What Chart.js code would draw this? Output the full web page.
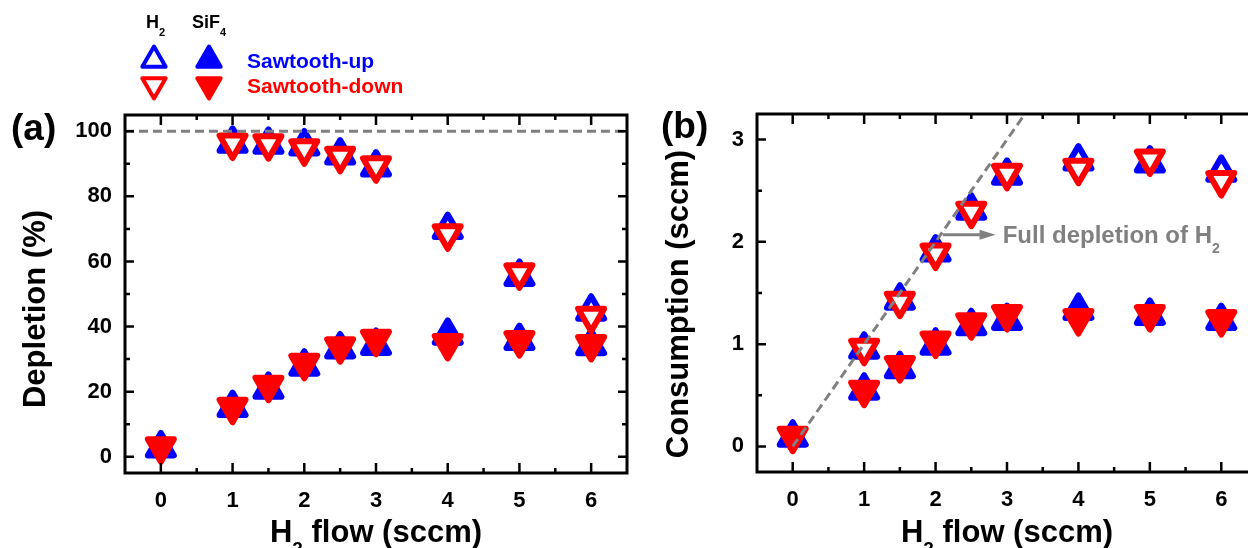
<!DOCTYPE html>
<html>
<head>
<meta charset="utf-8">
<script src="https://cdn.jsdelivr.net/npm/chart.js@4.4.0/dist/chart.umd.min.js"></script>
<style>
  html, body { margin: 0; padding: 0; background: #fff; }
  #wrap { position: relative; width: 1248px; height: 548px; overflow: hidden; background: #fff; }
  canvas { position: absolute; top: 0; }
  #chartA { left: 0; }
  #chartB { left: 640px; }
</style>
</head>
<body>
<div id="wrap">
  <canvas id="chartA" width="640" height="548"></canvas>
  <canvas id="chartB" width="640" height="548"></canvas>
</div>
<script>
// H2 flow (sccm)
const flow = [0, 1, 1.5, 2, 2.5, 3, 4, 5, 6];

// (a) depletion (%)
const depH2Up = [null, 96.3, 96.0, 95.5, 92.7, 89.0, 69.8, 55.4, 44.7];
const depH2Down = [null, 96.4, 96.2, 94.6, 92.3, 89.4, 68.5, 56.5, 43.2];
const depSiF4Up = [2.7, 15.1, 20.7, 27.8, 33.1, 34.2, 37.3, 35.7, 34.1];
const depSiF4Down = [3.1, 15.2, 22.0, 28.7, 33.8, 36.1, 34.8, 35.7, 34.5];

// (b) consumption (sccm)
const conH2Up = [null, 0.95, 1.43, 1.90, 2.31, 2.65, 2.79, 2.77, 2.68];
const conH2Down = [null, 0.96, 1.42, 1.89, 2.30, 2.67, 2.72, 2.81, 2.60];
const conSiF4Up = [0.09, 0.55, 0.76, 0.99, 1.18, 1.23, 1.33, 1.28, 1.23];
const conSiF4Down = [0.10, 0.55, 0.79, 1.03, 1.21, 1.29, 1.25, 1.29, 1.24];

// dashed guides and the arrow note
const fullDepA = [[-0.5, 100], [6.5, 100]];
const fullDepB = [[0, 0], [3.25, 3.25]];
const arrowB = [[2.1, 2.07], [2.84, 2.07]];
const noteB = [2.94, 2.07];

// axes
const xRange = [-0.5, 6.5];
const xTicks = [0, 0.5, 1, 1.5, 2, 2.5, 3, 3.5, 4, 4.5, 5, 5.5, 6];
const xLabels = [0, 1, 2, 3, 4, 5, 6];
const yRangeA = [-5, 105];
const yTicksA = [0, 10, 20, 30, 40, 50, 60, 70, 80, 90, 100];
const yLabelsA = [0, 20, 40, 60, 80, 100];
const yRangeB = [-0.25, 3.25];
const yTicksB = [0, 0.5, 1, 1.5, 2, 2.5, 3];
const yLabelsB = [0, 1, 2, 3];

const FONT = '"Liberation Sans", Arial, sans-serif';
const BLUE = '#0000ff', RED = '#ff0000', GREY = '#808080';

function pts(vals) {
    return flow.map((x, i) => ({ x, y: vals[i] })).filter(p => p.y !== null);
}

function series(label, vals, color, open, down) {
    return {
        label,
        data: pts(vals),
        showLine: false,
        pointStyle: 'triangle',
        pointRotation: down ? 180 : 0,
        pointRadius: 15,
        pointBorderWidth: 6,
        pointBorderColor: color,
        pointBackgroundColor: open ? '#fff' : color,
        order: down ? 1 : 2,
        clip: false
    };
}

function guide(pairs) {
    return {
        type: 'line',
        data: pairs.map(([x, y]) => ({ x, y })),
        borderColor: GREY,
        borderWidth: 3,
        borderDash: [9, 5],
        pointRadius: 0,
        order: 0
    };
}

// text with subscripts: parts = [[text, isSub], ...]
function subText(ctx, parts, x, y, size, align, color) {
    const sub = Math.round(size * 0.6);
    ctx.fillStyle = color;
    ctx.textBaseline = 'alphabetic';
    ctx.textAlign = 'left';
    const w = parts.map(([t, s]) => {
        ctx.font = `bold ${s ? sub : size}px ${FONT}`;
        return ctx.measureText(t).width;
    });
    let cx = align === 'center' ? x - w.reduce((a, b) => a + b, 0) / 2 : x;
    parts.forEach(([t, s], i) => {
        ctx.font = `bold ${s ? sub : size}px ${FONT}`;
        ctx.fillText(t, cx, s ? y + size * 0.43 : y);
        cx += w[i];
    });
}

function tri(ctx, x, y, r, down, color, open) {
    const s = down ? -1 : 1;
    ctx.save();
    ctx.lineJoin = 'round';
    ctx.lineWidth = 4;
    ctx.strokeStyle = color;
    ctx.fillStyle = open ? '#fff' : color;
    ctx.beginPath();
    ctx.moveTo(x, y - s * r);
    ctx.lineTo(x + r * 0.866, y + s * r / 2);
    ctx.lineTo(x - r * 0.866, y + s * r / 2);
    ctx.closePath();
    ctx.fill();
    ctx.stroke();
    ctx.restore();
}

const roundJoins = {
    id: 'roundJoins',
    beforeDatasetsDraw(chart) { chart.ctx.save(); chart.ctx.lineJoin = 'round'; },
    afterDatasetsDraw(chart) { chart.ctx.restore(); }
};

const decor = {
    id: 'decor',
    afterDraw(chart, args, o) {
        const { ctx, chartArea: a, scales: { x, y } } = chart;
        ctx.save();
        // frame + inward ticks on all four sides
        ctx.strokeStyle = '#000';
        ctx.lineWidth = 2.5;
        ctx.beginPath();
        x.ticks.forEach(t => {
            const px = x.getPixelForValue(t.value);
            const len = t.label !== '' ? 10 : 5;
            ctx.moveTo(px, a.bottom); ctx.lineTo(px, a.bottom - len);
            ctx.moveTo(px, a.top); ctx.lineTo(px, a.top + len);
        });
        y.ticks.forEach(t => {
            const py = y.getPixelForValue(t.value);
            const len = t.label !== '' ? 9 : 5;
            ctx.moveTo(a.left, py); ctx.lineTo(a.left + len, py);
            ctx.moveTo(a.right, py); ctx.lineTo(a.right - len, py);
        });
        ctx.stroke();
        ctx.lineWidth = 3;
        ctx.strokeRect(a.left, a.top, a.right - a.left, a.bottom - a.top);

        // panel letter
        ctx.fillStyle = '#000';
        ctx.font = `bold 37px ${FONT}`;
        ctx.textAlign = 'left';
        ctx.textBaseline = 'alphabetic';
        ctx.fillText(o.panel, o.panelPos[0], o.panelPos[1]);

        // axis titles
        subText(ctx, [['H', false], ['2', true], [' flow (sccm)', false]], (a.left + a.right) / 2, 542, 31, 'center', '#000');
        ctx.save();
        ctx.translate(o.yTitlePos[0], o.yTitlePos[1]);
        ctx.rotate(-Math.PI / 2);
        ctx.font = `bold 31px ${FONT}`;
        ctx.textAlign = 'center';
        ctx.textBaseline = 'middle';
        ctx.fillStyle = '#000';
        ctx.fillText(o.yTitle, 0, 0);
        ctx.restore();

        if (o.legend) {
            subText(ctx, [['H', false], ['2', true]], 146, 28, 18, 'left', '#000');
            subText(ctx, [['SiF', false], ['4', true]], 192, 28, 18, 'left', '#000');
            tri(ctx, 154, 60, 13.5, false, BLUE, true);
            tri(ctx, 209, 60, 13.5, false, BLUE, false);
            tri(ctx, 154, 85, 13.5, true, RED, true);
            tri(ctx, 209, 85, 13.5, true, RED, false);
            subText(ctx, [['Sawtooth-up', false]], 247, 68, 21, 'left', BLUE);
            subText(ctx, [['Sawtooth-down', false]], 247, 93, 21, 'left', RED);
        }

        if (o.arrow) {
            const x1 = x.getPixelForValue(o.arrow[0][0]);
            const x2 = x.getPixelForValue(o.arrow[1][0]);
            const py = y.getPixelForValue(o.arrow[0][1]);
            ctx.strokeStyle = GREY;
            ctx.fillStyle = GREY;
            ctx.lineWidth = 3;
            ctx.beginPath();
            ctx.moveTo(x1, py); ctx.lineTo(x2 - 12, py);
            ctx.stroke();
            ctx.beginPath();
            ctx.moveTo(x2, py); ctx.lineTo(x2 - 16, py - 5); ctx.lineTo(x2 - 16, py + 5);
            ctx.closePath();
            ctx.fill();
            const tx = x.getPixelForValue(o.note[0]);
            const ty = y.getPixelForValue(o.note[1]) + 8;
            subText(ctx, [['Full depletion of H', false], ['2', true]], tx, ty, 24, 'left', GREY);
        }
        ctx.restore();
    }
};

function noPad(s) {
    s.paddingLeft = 0; s.paddingRight = 0; s.paddingTop = 0; s.paddingBottom = 0;
}

function axes(yRange, yTicks, yLabels, yWidth, xHeight) {
    const tickFont = { family: FONT, size: 22, weight: 'bold' };
    return {
        x: {
            type: 'linear', min: xRange[0], max: xRange[1],
            grid: { display: false }, border: { display: false },
            ticks: { color: '#000', font: tickFont, padding: 7, autoSkip: false, maxRotation: 0,
                callback: v => xLabels.includes(v) ? String(v) : '' },
            afterBuildTicks: s => { s.ticks = xTicks.map(value => ({ value })); },
            afterFit: s => { s.height = xHeight; noPad(s); }
        },
        y: {
            type: 'linear', min: yRange[0], max: yRange[1],
            grid: { display: false }, border: { display: false },
            ticks: { color: '#000', font: tickFont, padding: 5, autoSkip: false,
                callback: v => yLabels.includes(v) ? String(v) : '' },
            afterBuildTicks: s => { s.ticks = yTicks.map(value => ({ value })); },
            afterFit: s => { s.width = yWidth; noPad(s); }
        }
    };
}

new Chart(document.getElementById('chartA'), {
    type: 'scatter',
    data: {
        datasets: [
            guide(fullDepA),
            series('H2 Sawtooth-down', depH2Down, RED, true, true),
            series('SiF4 Sawtooth-down', depSiF4Down, RED, false, true),
            series('H2 Sawtooth-up', depH2Up, BLUE, true, false),
            series('SiF4 Sawtooth-up', depSiF4Up, BLUE, false, false)
        ]
    },
    options: {
        responsive: false, animation: false, events: [],
        layout: { autoPadding: false, padding: { left: 0, top: 115, right: 13, bottom: 0 } },
        scales: axes(yRangeA, yTicksA, yLabelsA, 125, 75),
        plugins: {
            legend: { display: false }, tooltip: { enabled: false },
            decor: { panel: '(a)', panelPos: [11, 140], yTitle: 'Depletion (%)', yTitlePos: [36, 309], legend: true }
        }
    },
    plugins: [roundJoins, decor]
});

new Chart(document.getElementById('chartB'), {
    type: 'scatter',
    data: {
        datasets: [
            guide(fullDepB),
            series('H2 Sawtooth-down', conH2Down, RED, true, true),
            series('SiF4 Sawtooth-down', conSiF4Down, RED, false, true),
            series('H2 Sawtooth-up', conH2Up, BLUE, true, false),
            series('SiF4 Sawtooth-up', conSiF4Up, BLUE, false, false)
        ]
    },
    options: {
        responsive: false, animation: false, events: [],
        layout: { autoPadding: false, padding: { left: 0, top: 114, right: 23, bottom: 0 } },
        scales: axes(yRangeB, yTicksB, yLabelsB, 117, 76),
        plugins: {
            legend: { display: false }, tooltip: { enabled: false },
            decor: { panel: '(b)', panelPos: [21, 138], yTitle: 'Consumption (sccm)', yTitlePos: [39, 304],
                arrow: arrowB, note: noteB }
        }
    },
    plugins: [roundJoins, decor]
});
</script>
</body>
</html>
